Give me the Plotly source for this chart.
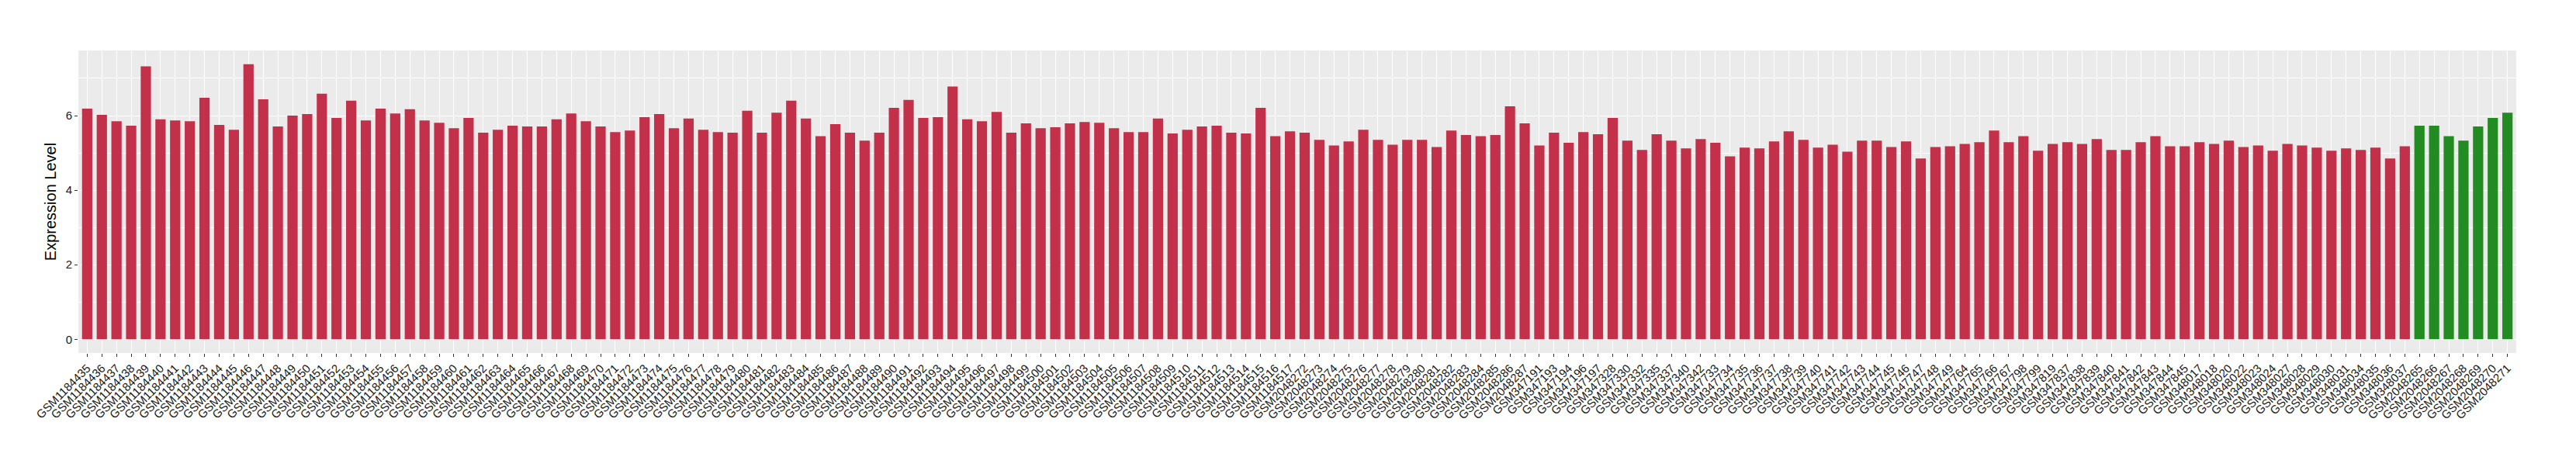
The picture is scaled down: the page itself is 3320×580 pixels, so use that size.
import plotly.graph_objects as go

red_labels = [
    "GSM1184435", "GSM1184436", "GSM1184437", "GSM1184438", "GSM1184439", "GSM1184440", "GSM1184441",
    "GSM1184442", "GSM1184443", "GSM1184444", "GSM1184445", "GSM1184446", "GSM1184447", "GSM1184448",
    "GSM1184449", "GSM1184450", "GSM1184451", "GSM1184452", "GSM1184453", "GSM1184454", "GSM1184455",
    "GSM1184456", "GSM1184457", "GSM1184458", "GSM1184459", "GSM1184460", "GSM1184461", "GSM1184462",
    "GSM1184463", "GSM1184464", "GSM1184465", "GSM1184466", "GSM1184467", "GSM1184468", "GSM1184469",
    "GSM1184470", "GSM1184471", "GSM1184472", "GSM1184473", "GSM1184474", "GSM1184475", "GSM1184476",
    "GSM1184477", "GSM1184478", "GSM1184479", "GSM1184480", "GSM1184481", "GSM1184482", "GSM1184483",
    "GSM1184484", "GSM1184485", "GSM1184486", "GSM1184487", "GSM1184488", "GSM1184489", "GSM1184490",
    "GSM1184491", "GSM1184492", "GSM1184493", "GSM1184494", "GSM1184495", "GSM1184496", "GSM1184497",
    "GSM1184498", "GSM1184499", "GSM1184500", "GSM1184501", "GSM1184502", "GSM1184503", "GSM1184504",
    "GSM1184505", "GSM1184506", "GSM1184507", "GSM1184508", "GSM1184509", "GSM1184510", "GSM1184511",
    "GSM1184512", "GSM1184513", "GSM1184514", "GSM1184515", "GSM1184516", "GSM1184517",
    "GSM2048272", "GSM2048273", "GSM2048274", "GSM2048275", "GSM2048276", "GSM2048277", "GSM2048278",
    "GSM2048279", "GSM2048280", "GSM2048281", "GSM2048282", "GSM2048283", "GSM2048284", "GSM2048285",
    "GSM2048286", "GSM2048287",
    "GSM347191", "GSM347193", "GSM347194", "GSM347196", "GSM347197", "GSM347328", "GSM347330",
    "GSM347332", "GSM347335", "GSM347337", "GSM347340", "GSM347342", "GSM347733", "GSM347734",
    "GSM347735", "GSM347736", "GSM347737", "GSM347738", "GSM347739", "GSM347740", "GSM347741",
    "GSM347742", "GSM347743", "GSM347744", "GSM347745", "GSM347746", "GSM347747", "GSM347748",
    "GSM347749", "GSM347764", "GSM347765", "GSM347766", "GSM347767", "GSM347798", "GSM347799",
    "GSM347819", "GSM347837", "GSM347838", "GSM347839", "GSM347840", "GSM347841", "GSM347842",
    "GSM347843", "GSM347844", "GSM347845", "GSM348017", "GSM348018", "GSM348020", "GSM348022",
    "GSM348023", "GSM348024", "GSM348027", "GSM348028", "GSM348029", "GSM348030", "GSM348031",
    "GSM348034", "GSM348035", "GSM348036", "GSM348037",
]

red_values = [
    6.19, 6.02, 5.85, 5.73, 7.32, 5.90, 5.87, 5.85, 6.48, 5.75, 5.62, 7.38, 6.44, 5.71,
    6.00, 6.04, 6.59, 5.94, 6.40, 5.87, 6.19, 6.06, 6.17, 5.87, 5.81, 5.66, 5.94, 5.54,
    5.62, 5.73, 5.71, 5.71, 5.90, 6.06, 5.85, 5.71, 5.56, 5.60, 5.96, 6.04, 5.66, 5.92,
    5.62, 5.56, 5.54, 6.13, 5.54, 6.08, 6.40, 5.92, 5.45, 5.77, 5.54, 5.33, 5.54, 6.21,
    6.42, 5.94, 5.96, 6.78, 5.90, 5.85, 6.10, 5.54, 5.79, 5.66, 5.69, 5.79, 5.83, 5.81,
    5.66, 5.56, 5.56, 5.92, 5.52, 5.62, 5.71, 5.73, 5.54, 5.52, 6.21, 5.45, 5.58,
    5.54, 5.35, 5.20, 5.31, 5.62, 5.35, 5.22, 5.35, 5.35, 5.16, 5.60, 5.48, 5.45, 5.48,
    6.25, 5.79,
    5.20, 5.54, 5.27, 5.56, 5.50, 5.94, 5.33, 5.08, 5.50, 5.33, 5.12, 5.37, 5.27, 4.91,
    5.14, 5.12, 5.31, 5.58, 5.35, 5.14, 5.22, 5.03, 5.33, 5.33, 5.16, 5.31,
    4.85, 5.16, 5.18, 5.24, 5.29, 5.60, 5.29, 5.45, 5.06, 5.24, 5.29, 5.24, 5.37, 5.08,
    5.08, 5.29, 5.45, 5.18, 5.18, 5.29, 5.24, 5.33, 5.16, 5.20, 5.06, 5.24, 5.20, 5.14,
    5.06, 5.12, 5.08, 5.14, 4.85, 5.18,
]

green_labels = ["GSM2048265", "GSM2048266", "GSM2048267", "GSM2048268", "GSM2048269",
                "GSM2048270", "GSM2048271"]
green_values = [5.73, 5.73, 5.45, 5.33, 5.71, 5.94, 6.08]

y_title = "Expression Level"
y_ticks = [0, 2, 4, 6]

all_labels = red_labels + green_labels
all_values = red_values + green_values
vmax = max(all_values)
n = len(all_labels)

RED = "#C3304A"
GREEN = "#228B22"
FONT = "Liberation Sans, Arial, sans-serif"

fig = go.Figure()
fig.add_trace(go.Bar(x=red_labels, y=red_values, width=0.7,
                     marker=dict(color=RED, line=dict(width=0)), showlegend=False))
fig.add_trace(go.Bar(x=green_labels, y=green_values, width=0.7,
                     marker=dict(color=GREEN, line=dict(width=0)), showlegend=False))

fig.update_layout(
    width=3320, height=580,
    barmode="overlay",
    paper_bgcolor="white",
    plot_bgcolor="#EBEBEB",
    margin=dict(l=93, r=85, t=57, b=133, autoexpand=False),
    font=dict(family=FONT, color="#1a1a1a"),
)
fig.update_xaxes(
    type="category",
    categoryorder="array", categoryarray=all_labels,
    range=[-0.6, n - 1 + 0.6],
    tickangle=-45,
    tickfont=dict(size=15, color="#1a1a1a", family=FONT),
    showgrid=True, gridcolor="white", gridwidth=1.1,
    ticks="outside", ticklen=4, tickcolor="#333333", tickwidth=1,
    showline=False, zeroline=False, automargin=False,
)
fig.update_yaxes(
    range=[-0.05 * vmax, 1.05 * vmax],
    tickvals=y_ticks,
    tickfont=dict(size=15, color="#1a1a1a", family=FONT),
    showgrid=True, gridcolor="white", gridwidth=1.1,
    minor=dict(dtick=1, showgrid=True, gridcolor="white", gridwidth=0.5),
    ticks="outside", ticklen=4, tickcolor="#333333", tickwidth=1,
    zeroline=False, showline=False, automargin=False,
    title=dict(text=y_title, font=dict(size=20, color="black", family=FONT), standoff=6),
)

fig.write_html("out.html")
